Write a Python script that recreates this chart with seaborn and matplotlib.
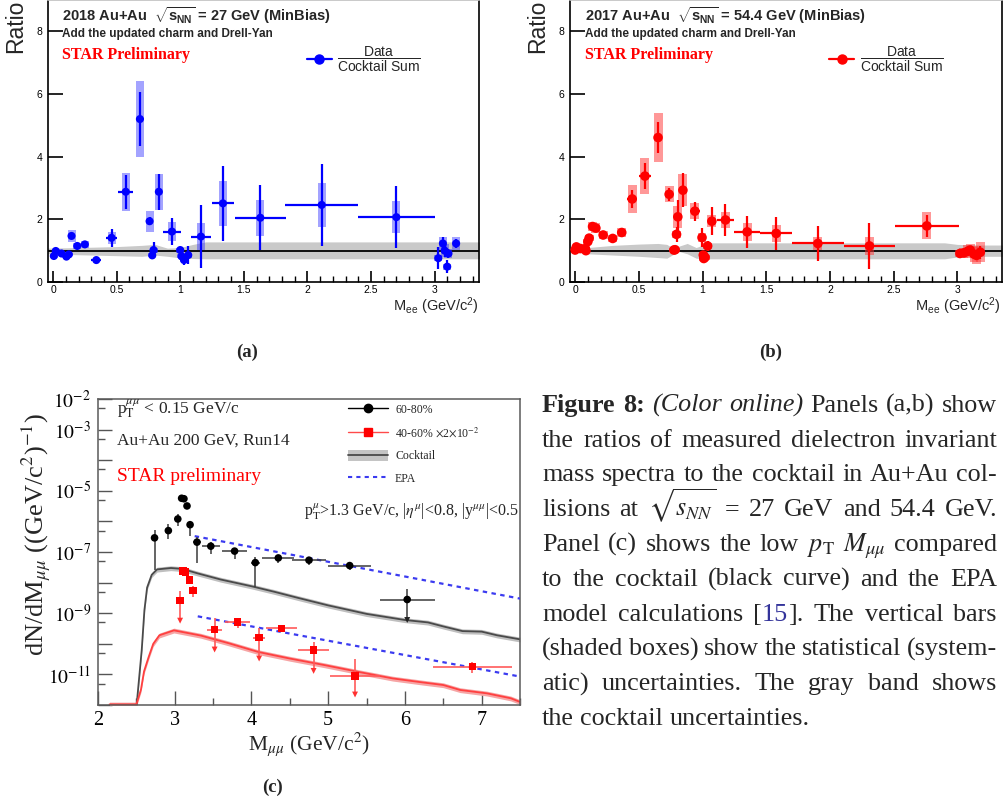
import numpy as np
import pandas as pd
import matplotlib
matplotlib.use("Agg")
import matplotlib.pyplot as plt
import seaborn as sns
from matplotlib.lines import Line2D
from matplotlib.patches import Patch
from matplotlib.font_manager import FontProperties
from matplotlib.ticker import MultipleLocator, FixedLocator, FixedFormatter, NullLocator, NullFormatter

# ---------------- panel (a): Au+Au 27 GeV ratio ----------------
a_mass = [0.006, 0.021, 0.066, 0.105, 0.124, 0.145, 0.19, 0.25, 0.34, 0.46, 0.572, 0.683, 0.759, 0.78, 0.79,
          0.832, 0.935, 1.00, 1.01, 1.03, 1.063, 1.163, 1.336, 1.63, 2.113, 2.70, 3.03, 3.066, 3.08, 3.10, 3.11, 3.17]
a_ratio = [0.83, 0.99, 0.91, 0.81, 0.88, 1.47, 1.15, 1.20, 0.70, 1.41, 2.88, 5.20, 1.94, 0.85, 1.02,
           2.88, 1.61, 1.02, 0.82, 0.70, 0.86, 1.45, 2.51, 2.05, 2.46, 2.07, 0.76, 1.23, 1.00, 0.49, 0.91, 1.23]
a_stat = [0.05, 0.05, 0.05, 0.05, 0.06, 0.08, 0.08, 0.08, 0.05, 0.28, 0.55, 0.86, 0.12, 0.06, 0.25,
          0.58, 0.43, 0.10, 0.12, 0.15, 0.30, 1.00, 1.20, 1.03, 1.30, 1.00, 0.35, 0.20, 0.20, 0.20, 0.15, 0.15]
a_sys = [0.05, 0.05, 0.05, 0.05, 0.06, 0.20, 0.10, 0.12, 0.04, 0.20, 0.60, 1.22, 0.33, 0.06, 0.08,
         0.57, 0.30, 0.08, 0.06, 0.06, 0.08, 0.42, 0.72, 0.58, 0.69, 0.52, 0.10, 0.20, 0.20, 0.10, 0.15, 0.20]
a_xerr = [0, 0, 0, 0, 0, 0, 0, 0, 0.04, 0.04, 0.06, 0.03, 0, 0, 0,
          0, 0.07, 0, 0, 0, 0, 0.08, 0.09, 0.20, 0.285, 0.30, 0, 0, 0, 0, 0, 0.02]
a_band_mass = [-0.05, 0.2, 0.5, 0.7, 0.8, 0.9, 1.0, 1.1, 1.2, 3.4]
a_band_lo = [0.90, 0.87, 0.84, 0.82, 0.86, 0.82, 0.77, 0.75, 0.74, 0.74]
a_band_hi = [1.08, 1.10, 1.13, 1.17, 1.20, 1.08, 1.10, 1.20, 1.28, 1.28]

# ---------------- panel (b): Au+Au 54.4 GeV ratio ----------------
b_mass = [0.0, 0.01, 0.04, 0.08, 0.085, 0.10, 0.11, 0.137, 0.163, 0.22, 0.295, 0.366, 0.448, 0.548, 0.651,
          0.738, 0.775, 0.785, 0.796, 0.806, 0.846, 0.94, 0.996, 1.006, 1.01, 1.02, 1.04, 1.073, 1.18, 1.35,
          1.578, 1.905, 2.31, 2.76, 3.02, 3.05, 3.08, 3.10, 3.13, 3.15, 3.18]
b_ratio = [1.02, 1.12, 1.07, 1.07, 1.00, 1.29, 1.40, 1.77, 1.72, 1.50, 1.39, 1.58, 2.65, 3.38, 4.61,
           2.80, 1.02, 1.03, 1.52, 2.08, 2.93, 2.26, 1.42, 0.86, 0.75, 0.79, 1.15, 1.94, 1.98, 1.60,
           1.55, 1.23, 1.15, 1.79, 0.91, 0.93, 0.98, 1.02, 0.89, 0.85, 0.95]
b_stat = [0.05, 0.05, 0.05, 0.05, 0.05, 0.06, 0.06, 0.08, 0.08, 0.07, 0.07, 0.08, 0.30, 0.42, 0.50,
          0.20, 0.06, 0.06, 0.25, 0.55, 0.55, 0.30, 0.30, 0.10, 0.10, 0.10, 0.15, 0.45, 0.50, 0.52,
          0.54, 0.55, 0.72, 0.35, 0.08, 0.08, 0.10, 0.10, 0.12, 0.15, 0.20]
b_sys = [0.06, 0.06, 0.06, 0.06, 0.06, 0.08, 0.10, 0.15, 0.15, 0.12, 0.12, 0.14, 0.45, 0.57, 0.78,
         0.25, 0.06, 0.06, 0.12, 0.35, 0.52, 0.25, 0.15, 0.10, 0.08, 0.08, 0.10, 0.20, 0.25, 0.28,
         0.28, 0.22, 0.30, 0.43, 0.10, 0.15, 0.20, 0.20, 0.25, 0.28, 0.32]
b_xerr = [0, 0, 0, 0, 0, 0, 0, 0, 0, 0, 0, 0, 0.04, 0.05, 0.02,
          0.02, 0, 0, 0, 0, 0, 0.04, 0, 0, 0, 0, 0, 0.03, 0.07, 0.10,
          0.125, 0.205, 0.20, 0.25, 0.02, 0, 0, 0, 0, 0, 0]
b_band_mass = [0.0, 0.1, 0.3, 0.5, 0.65, 0.72, 0.77, 0.82, 0.88, 0.95, 1.05, 2.0, 2.9, 3.0, 3.2, 3.4]
b_band_lo = [0.95, 0.90, 0.86, 0.82, 0.78, 0.76, 0.88, 0.97, 0.90, 0.76, 0.74, 0.74, 0.74, 0.80, 0.82, 0.82]
b_band_hi = [1.05, 1.10, 1.17, 1.21, 1.23, 1.20, 1.08, 1.15, 1.23, 1.10, 1.25, 1.25, 1.25, 1.20, 1.18, 1.18]

ratio_xticks = [0, 0.5, 1, 1.5, 2, 2.5, 3]
ratio_xlabels = ["0", "0.5", "1", "1.5", "2", "2.5", "3"]
ratio_yticks = [0, 2, 4, 6, 8]
ratio_ylabels = ["0", "2", "4", "6", "8"]

# ---------------- panel (c): low-pT dimuon spectra ----------------
c_blk_mass = [2.737, 2.917, 3.04, 3.09, 3.12, 3.16, 3.20, 3.29, 3.47, 3.78, 4.05, 4.35, 4.75, 5.28, 6.03]
c_blk_val = [2.9e-7, 5.0e-7, 1.2e-6, 5.7e-6, 5.5e-6, 3.2e-6, 7.8e-7, 2.1e-7, 1.55e-7, 1.07e-7, 4.5e-8,
             6.4e-8, 5.4e-8, 3.6e-8, 2.8e-9]
c_blk_lo = [2.5e-8, 2.6e-7, 7.0e-7, 4.7e-6, 4.6e-6, 2.5e-6, 3.4e-7, 4.5e-8, 8.5e-8, 6.0e-8, 7.4e-9,
            4.5e-8, 3.8e-8, 2.5e-8, 6.0e-10]
c_blk_hi = [5.4e-7, 8.0e-7, 1.8e-6, 6.6e-6, 6.4e-6, 3.9e-6, 1.0e-6, 3.0e-7, 2.1e-7, 1.4e-7, 7.0e-8,
            8.0e-8, 6.6e-8, 4.5e-8, 6.2e-9]
c_blk_xerr = [0, 0, 0, 0, 0, 0, 0, 0.05, 0.12, 0.16, 0.06, 0.21, 0.22, 0.28, 0.36]
c_blk_ul = [0, 0, 0, 0, 0, 0, 0, 0, 0, 0, 0, 0, 0, 0, 1]

c_red_mass = [3.07, 3.11, 3.14, 3.19, 3.24, 3.52, 3.82, 4.10, 4.39, 4.81, 5.35, 6.88]
c_red_val = [2.6e-9, 2.4e-8, 2.2e-8, 1.2e-8, 5.6e-9, 2.9e-10, 5.1e-10, 1.6e-10, 3.2e-10, 6.2e-11, 8.9e-12, 1.8e-11]
c_red_lo = [5.7e-10, 2.0e-8, 1.8e-8, 9.0e-9, 3.5e-9, 6.5e-11, 3.3e-10, 3.3e-11, 2.6e-10, 1.3e-11, 2.2e-12, 1.1e-11]
c_red_hi = [5.5e-9, 2.8e-8, 2.6e-8, 1.5e-8, 7.5e-9, 6.9e-10, 6.8e-10, 3.3e-10, 4.0e-10, 1.15e-10, 3.3e-11, 2.5e-11]
c_red_xerr = [0, 0, 0, 0, 0, 0.10, 0.16, 0.08, 0.20, 0.20, 0.33, 0.51]
c_red_ul = [1, 0, 0, 0, 0, 1, 0, 1, 0, 1, 1, 0]

c_ck_mass = [2.50, 2.57, 2.605, 2.64, 2.70, 2.77, 2.95, 3.10, 3.30, 3.60, 4.00, 4.30, 4.60, 5.00, 5.50,
             6.00, 6.30, 6.50, 6.75, 7.00, 7.20, 7.50]
c_ck_val = [8.0e-13, 6.3e-11, 1.26e-9, 6.9e-9, 1.8e-8, 2.7e-8, 3.0e-8, 2.8e-8, 2.0e-8, 1.26e-8, 7.6e-9,
            5.0e-9, 3.2e-9, 1.8e-9, 9.5e-10, 6.0e-10, 5.0e-10, 3.7e-10, 2.6e-10, 2.5e-10, 1.9e-10, 1.4e-10]
c_ckr_mass = [2.15, 2.50, 2.56, 2.60, 2.66, 2.72, 2.80, 2.99, 3.34, 3.70, 4.09, 4.50, 4.96, 5.40, 5.84,
              6.20, 6.50, 6.72, 7.07, 7.38, 7.50]
c_ckr_val = [1.05e-12, 1.05e-12, 3.2e-12, 1.26e-11, 3.7e-11, 1.0e-10, 1.9e-10, 2.75e-10, 1.86e-10, 1.05e-10,
             5.4e-11, 3.3e-11, 2.0e-11, 1.2e-11, 7.4e-12, 5.6e-12, 4.5e-12, 3.1e-12, 2.4e-12, 1.66e-12, 1.26e-12]
c_band_frac = 0.18
c_epa1_mass = [3.26, 7.50]
c_epa1_val = [3.3e-7, 3.0e-9]
c_epa2_mass = [3.30, 7.50]
c_epa2_val = [7.9e-10, 8.5e-12]

c_xticks = [2, 3, 4, 5, 6, 7]
c_xlabels = ["2", "3", "4", "5", "6", "7"]
c_ydecades = [1e-12, 1e-11, 1e-10, 1e-9, 1e-8, 1e-7, 1e-6, 1e-5, 1e-4, 1e-3, 1e-2]
c_ylabels = ["", r"$10^{-11}$", "", r"$10^{-9}$", "", r"$10^{-7}$", "", r"$10^{-5}$", "", r"$10^{-3}$", r"$10^{-2}$"]
c_yminor = [5e-12, 5e-11, 5e-10, 5e-9, 5e-8, 5e-7, 5e-6, 5e-5, 5e-4, 5e-3]

caption_lines = [
    "Figure 8:  (Color online) Panels (a,b) show",
    "the ratios of measured dielectron invariant",
    "mass spectra to the cocktail in Au+Au col-",
    r"lisions at $\sqrt{s_{NN}}$ = 27 GeV and 54.4 GeV.",
    r"Panel (c) shows the low $p_{\mathrm{T}}$ $M_{\mu\mu}$ compared",
    "to the cocktail (black curve) and the EPA",
    "model calculations [15]. The vertical bars",
    "(shaded boxes) show the statistical (system-",
    "atic) uncertainties. The gray band shows",
    "the cocktail uncertainties.",
]

# ---------------- style ----------------
sns.set_theme(style="ticks")
plt.rcParams["font.family"] = ["Liberation Sans", "DejaVu Sans"]
plt.rcParams.update({
    "mathtext.fontset": "stix",
    "mathtext.rm": "Liberation Sans",
    "mathtext.it": "Liberation Sans:italic",
    "mathtext.bf": "Liberation Sans:bold",
    "mathtext.sf": "Liberation Sans",
    "axes.facecolor": "white",
    "figure.facecolor": "white",
})

W, H = 1004, 805
fig = plt.figure(figsize=(W / 100, H / 100), dpi=100)


def ax_px(l, t, r, b):
    return fig.add_axes([l / W, 1 - b / H, (r - l) / W, (b - t) / H])


def ftext(x, y, s, **kw):
    return fig.text(x / W, 1 - y / H, s, **kw)


SERIF = "Liberation Serif"
SANS = "Liberation Sans"


def ratio_panel(ax, mass, ratio, stat, sys_, xerr, bm, blo, bhi, color, box_color, box_w, msize):
    df = pd.DataFrame(dict(m=mass, r=ratio, stat=stat, sys=sys_, xerr=xerr))
    ax.fill_between(bm, blo, bhi, color="#c9c9c9", lw=0, zorder=1)
    ax.axhline(1.0, color="black", lw=1.3, zorder=2)
    ax.bar(df["m"], 2 * df["sys"], bottom=df["r"] - df["sys"], width=box_w, color=box_color,
           lw=0, zorder=3, align="center")
    ax.errorbar(df["m"], df["r"], yerr=df["stat"], xerr=df["xerr"], fmt="none", ecolor=color,
                elinewidth=1.6, capsize=0, zorder=4)
    sns.scatterplot(data=df, x="m", y="r", ax=ax, color=color, s=msize, edgecolor="none",
                    linewidth=0, zorder=5, legend=False)
    ax.set_xlim(-0.04, 3.35)
    ax.set_ylim(0, 9.0)
    ax.set_xlabel("")
    ax.set_ylabel("")
    ax.xaxis.set_major_locator(FixedLocator(ratio_xticks))
    ax.xaxis.set_major_formatter(FixedFormatter(ratio_xlabels))
    ax.xaxis.set_minor_locator(MultipleLocator(0.1))
    ax.yaxis.set_major_locator(FixedLocator(ratio_yticks))
    ax.yaxis.set_major_formatter(FixedFormatter(ratio_ylabels))
    ax.yaxis.set_minor_locator(NullLocator())
    ax.tick_params(axis="x", which="major", direction="in", length=8, width=1.2, labelsize=7.5,
                   pad=2, colors="black")
    ax.tick_params(axis="x", which="minor", direction="in", length=4, width=1.0, colors="black")
    ax.tick_params(axis="y", which="major", direction="in", length=11, width=1.2, labelsize=7.5,
                   pad=4, colors="black")
    for sp in ax.spines.values():
        sp.set_color("black")
        sp.set_linewidth(1.2)
    ax.spines["top"].set_color("#c0c0c0")


# ---------------- panel (a) ----------------
ax_a = ax_px(48, 0, 479, 282)
ratio_panel(ax_a, a_mass, a_ratio, a_stat, a_sys, a_xerr, a_band_mass, a_band_lo, a_band_hi,
            "#0000ff", (0.2, 0.2, 1.0, 0.45), 0.063, 34)
# ---------------- panel (b) ----------------
ax_b = ax_px(570, 0, 1002, 282)
ratio_panel(ax_b, b_mass, b_ratio, b_stat, b_sys, b_xerr, b_band_mass, b_band_lo, b_band_hi,
            "#ff0000", (1.0, 0.2, 0.2, 0.5), 0.07, 48)

for ax, x0, color, title, lx, rx in [(ax_a, 62, "#0000ff", r"2018 Au+Au  $\sqrt{\mathbf{s}_{\mathbf{NN}}}$ = 27 GeV (MinBias)", 16, 479),
                                     (ax_b, 585, "#ff0000", r"2017 Au+Au  $\sqrt{\mathbf{s}_{\mathbf{NN}}}$ = 54.4 GeV (MinBias)", 538, 1001)]:
    ftext(x0, 20.5, title, fontsize=10.5, fontweight="bold", family=SANS, va="baseline",
          math_fontfamily="custom")
    ftext(x0, 36.5, "Add the updated charm and Drell-Yan", fontsize=8.5, fontweight="bold",
          family=SANS, va="baseline")
    ftext(x0, 59, "STAR Preliminary", fontsize=11.5, fontweight="bold", family=SERIF,
          color="#ff0000", va="baseline")
    ftext(lx, 53, "Ratio", fontsize=16.5, family=SANS, rotation=90, ha="center", va="bottom")
    ftext(rx, 306, r"M$_{\mathrm{ee}}$ (GeV/c$^{2}$)", fontsize=10.5, family=SANS, ha="right",
          va="center", math_fontfamily="custom")
    h = Line2D([], [], color=color, marker="o", ms=6.5, lw=1.6)
    ax.legend([h], [r"$\dfrac{\mathrm{Data}}{\mathrm{Cocktail\ Sum}}$"], loc="center left",
              bbox_to_anchor=(0.60, 0.79), frameon=False, handlelength=1.8, handletextpad=0.4,
              borderpad=0, borderaxespad=0,
              prop=FontProperties(family=SANS, size=10, math_fontfamily="custom"))

ftext(247, 352, "(a)", fontsize=13.5, fontweight="bold", family=SERIF, ha="center", va="center")
ftext(771, 352, "(b)", fontsize=13.5, fontweight="bold", family=SERIF, ha="center", va="center")

# ---------------- panel (c) ----------------
ax_c = ax_px(98, 399, 520, 705)
ax_c.set_yscale("log")
ax_c.set_xlim(2, 7.5)
ax_c.set_ylim(1e-12, 1e-2)

ck = np.array(c_ck_val)
ax_c.fill_between(c_ck_mass, ck * (1 - c_band_frac), ck * (1 + c_band_frac), color="#bfbfbf", lw=0, zorder=1)
ckr = np.array(c_ckr_val)
ax_c.fill_between(c_ckr_mass, ckr * (1 - c_band_frac), ckr * (1 + c_band_frac), color="#f6a5a5", lw=0, zorder=1)
sns.lineplot(x=c_ck_mass, y=c_ck_val, ax=ax_c, color="#4a4a4a", lw=1.3, estimator=None, sort=False,
             zorder=2, legend=False)
sns.lineplot(x=c_ckr_mass, y=c_ckr_val, ax=ax_c, color="#ff4040", lw=1.3, estimator=None, sort=False,
             zorder=2, legend=False)
sns.lineplot(x=c_epa1_mass, y=c_epa1_val, ax=ax_c, color="#3b3bf0", lw=1.6, linestyle=(0, (2, 2)),
             estimator=None, sort=False, zorder=3, legend=False)
sns.lineplot(x=c_epa2_mass, y=c_epa2_val, ax=ax_c, color="#3b3bf0", lw=1.6, linestyle=(0, (2, 2)),
             estimator=None, sort=False, zorder=3, legend=False)

blk = pd.DataFrame(dict(m=c_blk_mass, v=c_blk_val, lo=c_blk_lo, hi=c_blk_hi, xe=c_blk_xerr, ul=c_blk_ul))
red = pd.DataFrame(dict(m=c_red_mass, v=c_red_val, lo=c_red_lo, hi=c_red_hi, xe=c_red_xerr, ul=c_red_ul))
ax_c.errorbar(blk["m"], blk["v"], yerr=[blk["v"] - blk["lo"], blk["hi"] - blk["v"]], xerr=blk["xe"],
              fmt="none", ecolor="#3a3a3a", elinewidth=1.1, capsize=0, zorder=4)
ax_c.errorbar(red["m"], red["v"], yerr=[red["v"] - red["lo"], red["hi"] - red["v"]], xerr=red["xe"],
              fmt="none", ecolor="#ff5a5a", elinewidth=1.2, capsize=0, zorder=4)
sns.scatterplot(data=blk[blk["ul"] == 1], x="m", y="lo", ax=ax_c, marker="v", color="#222222", s=18,
                edgecolor="none", zorder=5, legend=False)
sns.scatterplot(data=red[red["ul"] == 1], x="m", y="lo", ax=ax_c, marker="v", color="#ff3030", s=18,
                edgecolor="none", zorder=5, legend=False)
sns.scatterplot(data=blk, x="m", y="v", ax=ax_c, marker="o", color="black", s=30, edgecolor="none",
                zorder=6, legend=False)
sns.scatterplot(data=red, x="m", y="v", ax=ax_c, marker="s", color="#ff0000", s=30, edgecolor="none",
                zorder=6, legend=False)
ax_c.set_xlabel("")
ax_c.set_ylabel("")
ax_c.xaxis.set_major_locator(FixedLocator(c_xticks))
ax_c.xaxis.set_major_formatter(FixedFormatter(c_xlabels))
ax_c.xaxis.set_minor_locator(MultipleLocator(0.5))
ax_c.yaxis.set_major_locator(FixedLocator(c_ydecades))
ax_c.yaxis.set_major_formatter(FixedFormatter(c_ylabels))
ax_c.yaxis.set_minor_locator(FixedLocator(c_yminor))
ax_c.yaxis.set_minor_formatter(NullFormatter())
ax_c.tick_params(axis="both", which="major", direction="in", length=10, width=1.0, color="#555555",
                 labelcolor="black", labelfontfamily=SERIF)
ax_c.tick_params(axis="both", which="minor", direction="in", length=5, width=1.0, color="#555555")
ax_c.tick_params(axis="y", which="major", labelsize=14, pad=5)
ax_c.tick_params(axis="x", which="major", labelsize=14.5, pad=4)
for sp in ax_c.spines.values():
    sp.set_color("#5a5a5a")
    sp.set_linewidth(1.1)

h_blk = Line2D([], [], color="black", marker="o", ms=6, lw=1.0)
h_red = Line2D([], [], color="#ff4a4a", marker="s", ms=6, mfc="#ff0000", mec="#ff0000", lw=1.0)
h_ck = (Patch(facecolor="#c4c4c4", edgecolor="none"), Line2D([], [], color="#4a4a4a", lw=1.3))
h_epa = Line2D([], [], color="#3b3bf0", ls=(0, (2, 2)), lw=1.5)
ax_c.legend([h_blk, h_red, h_ck, h_epa], ["60-80%", r"40-60% $\times$2$\times$10$^{-2}$", "Cocktail", "EPA"],
            loc="upper left", bbox_to_anchor=(0.592, 0.985), frameon=False,
            prop=FontProperties(family=SERIF, size=8.5), handlelength=3.4, handletextpad=0.6,
            labelspacing=0.85, borderpad=0, borderaxespad=0, handleheight=1.0)

ftext(117, 409, r"p$_{\mathrm{T}}^{\mu\mu}$ < 0.15 GeV/c", fontsize=12.5, family=SERIF, va="center")
ftext(117, 441, "Au+Au 200 GeV, Run14", fontsize=12.5, family=SERIF, va="center")
ftext(117, 476, "STAR preliminary", fontsize=14, family=SERIF, color="#ff0000", va="center")
ftext(519, 512, r"p$_{\mathrm{T}}^{\mu}$>1.3 GeV/c, |$\eta^{\mu}$|<0.8, |y$^{\mu\mu}$|<0.5", fontsize=11.5,
      family=SERIF, va="center", ha="right")
ftext(36, 535, r"dN/dM$_{\mu\mu}$ ((GeV/c$^{2}$)$^{-1}$)", fontsize=19, family=SERIF, rotation=90,
      ha="center", va="center")
ftext(309, 744, r"M$_{\mu\mu}$ (GeV/c$^{2}$)", fontsize=15.5, family=SERIF, ha="center", va="center")
ftext(273, 787, "(c)", fontsize=13.5, fontweight="bold", family=SERIF, ha="center", va="center")

# ---------------- caption (justified) ----------------
renderer = fig.canvas.get_renderer()
cap_left, cap_right = 542, 997
cap_base0, cap_step = 411.7, 34.8
cap_target_fs = 19.0
cap_min_space = 0.2


def word_segments(word):
    if word in ("Figure", "8:"):
        return [(word, dict(fontweight="bold"))]
    if word in ("(Color", "online)"):
        return [(word, dict(fontstyle="italic"))]
    if word == "[15].":
        return [("[", {}), ("15", dict(color="#33339a")), ("].", {})]
    return [(word, {})]


def build_line(i, fs):
    y = cap_base0 + i * cap_step
    groups = []
    for w in caption_lines[i].split():
        objs = [ftext(0, y, txt, fontsize=fs, family=SERIF, va="baseline", ha="left", **kw)
                for txt, kw in word_segments(w)]
        groups.append(objs)
    widths = [[t.get_window_extent(renderer).width for t in g] for g in groups]
    return groups, widths


# measure at target size, shrink if any line cannot fit with a minimal word space
scale = 1.0
for i in range(len(caption_lines) - 1):
    groups, widths = build_line(i, cap_target_fs)
    total = sum(sum(ws) for ws in widths)
    need = total + (len(groups) - 1) * cap_min_space * cap_target_fs * 100 / 72
    scale = min(scale, (cap_right - cap_left) / need)
    for g in groups:
        for t in g:
            t.remove()
cap_fs = cap_target_fs * scale

for i in range(len(caption_lines)):
    groups, widths = build_line(i, cap_fs)
    total = sum(sum(ws) for ws in widths)
    if i == len(caption_lines) - 1:
        gap = 0.25 * cap_fs * 100 / 72
    else:
        gap = (cap_right - cap_left - total) / (len(groups) - 1)
    x = cap_left
    for g, ws in zip(groups, widths):
        for t, wd in zip(g, ws):
            t.set_x(x / W)
            x += wd
        x += gap

fig.savefig("out.png", dpi=100)
